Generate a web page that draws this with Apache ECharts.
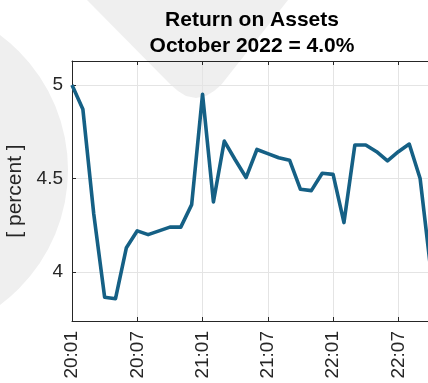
<!DOCTYPE html>
<html>
<head>
<meta charset="utf-8">
<script src="https://cdn.jsdelivr.net/npm/echarts@6/dist/echarts.min.js"></script>
<style>
  html, body { margin: 0; padding: 0; background: #ffffff; }
  #chart { width: 428px; height: 383px; }
</style>
</head>
<body>
<div id="chart"></div>
<script>
// Monthly periods (YY:MM)
const months = [
  '20:01','20:02','20:03','20:04','20:05','20:06','20:07','20:08','20:09','20:10','20:11','20:12',
  '21:01','21:02','21:03','21:04','21:05','21:06','21:07','21:08','21:09','21:10','21:11','21:12',
  '22:01','22:02','22:03','22:04','22:05','22:06','22:07','22:08','22:09','22:10'
];

// Return on assets, percent
const roa = [
  5.00, 4.87, 4.31, 3.865, 3.857, 4.13, 4.22, 4.20, 4.22, 4.24, 4.24, 4.36,
  4.95, 4.375, 4.70, 4.60, 4.505, 4.655, 4.633, 4.611, 4.598, 4.442, 4.435, 4.528,
  4.522, 4.264, 4.679, 4.679, 4.643, 4.594, 4.643, 4.684, 4.50, 4.00
];

// Y-axis tick values
const yTicks = [4, 4.5, 5];

const monthNames = ['January','February','March','April','May','June','July',
  'August','September','October','November','December'];
const lastPeriod = months[months.length - 1].split(':');
const headline = monthNames[parseInt(lastPeriod[1], 10) - 1] + ' 20' + lastPeriod[0] +
  ' = ' + roa[roa.length - 1].toFixed(1) + '%';

const axisColor = '#262626';
const gridColor = '#e4e4e4';
const font = '"Liberation Sans", Arial, Helvetica, sans-serif';

const chart = echarts.init(document.getElementById('chart'), null, { renderer: 'canvas' });

chart.setOption({
  animation: false,
  backgroundColor: '#ffffff',
  graphic: [
    {
      type: 'circle', z: -5, silent: true,
      shape: { cx: -100, cy: 170, r: 168 },
      style: { fill: '#efefef' }
    },
    {
      type: 'polygon', z: -5, silent: true,
      shape: {
        points: [[87, 0], [170, 84], [178, 91], [186, 96], [196, 98], [206, 96], [214, 91], [221, 85], [288, 0]]
      },
      style: { fill: '#efefef' }
    }
  ],
  title: {
    text: 'Return on Assets\n' + headline,
    left: 247,
    textAlign: 'center',
    top: 2,
    textStyle: {
      fontFamily: font, fontSize: 21, fontWeight: 'bold', color: '#000000', lineHeight: 26
    }
  },
  // the plot box runs a few pixels past the right edge of the canvas
  grid: {
    left: 72, width: 359, top: 61, bottom: 62,
    containLabel: false, outerBoundsMode: 'none'
  },
  xAxis: [
    {
      type: 'category',
      data: months,
      boundaryGap: false,
      position: 'bottom',
      axisLine: { show: true, lineStyle: { color: axisColor, width: 1 } },
      axisTick: { show: true, inside: true, length: 4, interval: 5, lineStyle: { color: axisColor } },
      axisLabel: {
        interval: 5, rotate: 90, margin: 10, color: axisColor,
        fontFamily: font, fontSize: 19
      },
      splitLine: { show: true, interval: 5, lineStyle: { color: gridColor, width: 1 } }
    },
    {
      type: 'category',
      data: months,
      boundaryGap: false,
      position: 'top',
      axisLine: { show: true, lineStyle: { color: axisColor, width: 1 } },
      axisTick: { show: true, inside: true, length: 4, interval: 5, lineStyle: { color: axisColor } },
      axisLabel: { show: false },
      splitLine: { show: false }
    }
  ],
  yAxis: {
    type: 'value',
    min: 3.738,
    max: 5.128,
    name: '[ percent ]',
    nameLocation: 'middle',
    nameGap: 41,
    nameTextStyle: { color: axisColor, fontFamily: font, fontSize: 21 },
    axisLine: { show: true, lineStyle: { color: axisColor, width: 1 } },
    axisTick: { show: true, inside: true, length: 4, customValues: yTicks, lineStyle: { color: axisColor } },
    axisLabel: {
      customValues: yTicks, margin: 9, color: axisColor,
      fontFamily: font, fontSize: 19,
      formatter: v => String(v)
    },
    splitLine: { show: true, lineStyle: { color: gridColor, width: 1 } }
  },
  series: [
    {
      type: 'line',
      data: roa,
      xAxisIndex: 0,
      symbol: 'none',
      lineStyle: { color: '#156085', width: 3.6, join: 'round' },
      clip: true
    }
  ]
});
</script>
</body>
</html>
